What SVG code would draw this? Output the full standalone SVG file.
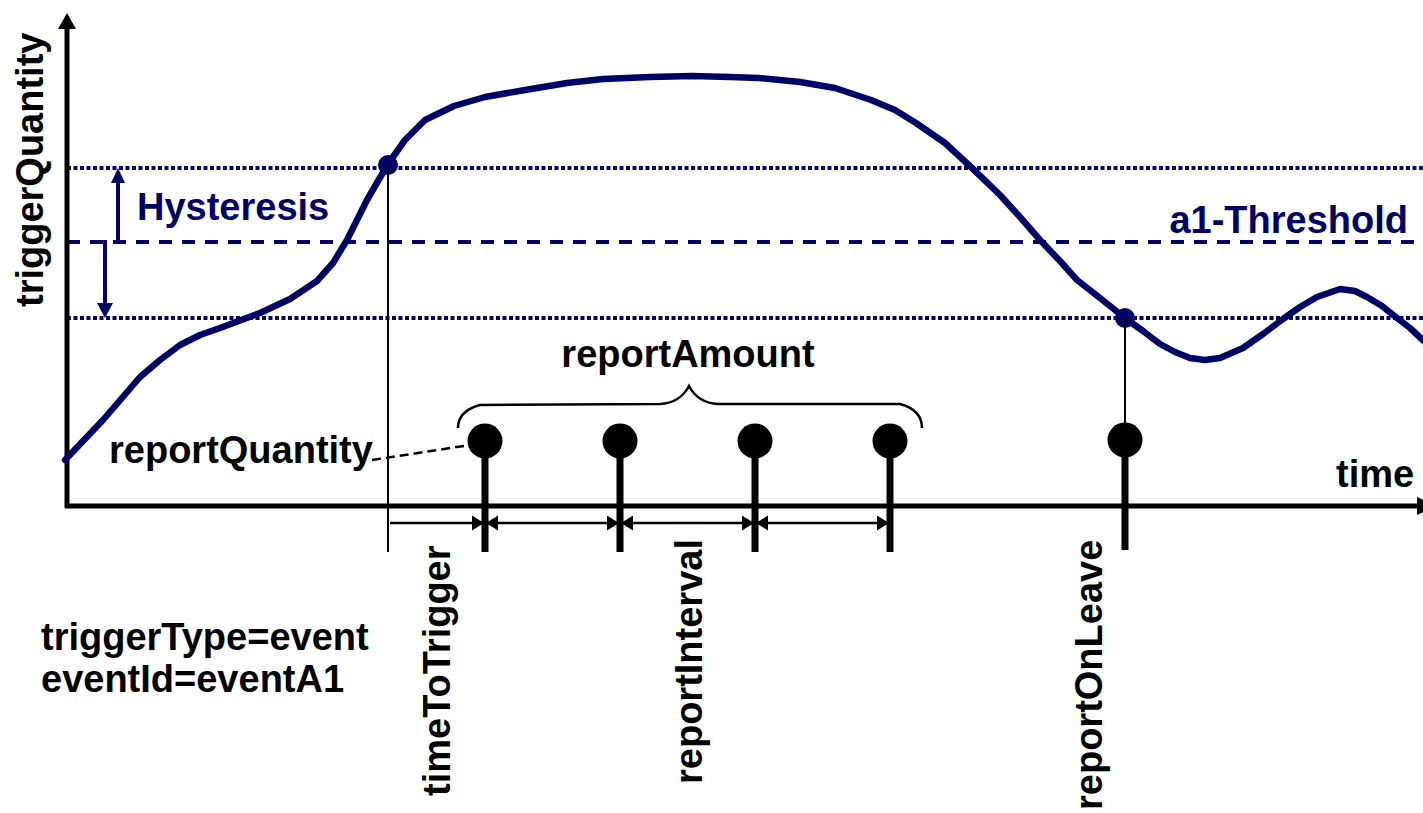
<svg xmlns="http://www.w3.org/2000/svg" width="1423" height="813" viewBox="0 0 1423 813">
<style>
text{font-family:"Liberation Sans",Arial,sans-serif;font-weight:bold;font-size:38px;fill:#000}
.navy{fill:#000066}
.dot{stroke:#000066;stroke-width:4;stroke-dasharray:4 2.5;fill:none}
.dash{stroke:#000066;stroke-width:4;stroke-dasharray:13 10;fill:none}
.ax{stroke:#000;stroke-width:5;fill:none}
.thin{stroke:#000;stroke-width:2;fill:none}
.stem{stroke:#000;stroke-width:7;fill:none}
.iv{stroke:#000;stroke-width:2.5;fill:none}
</style>
<defs>
<marker id="ah" markerUnits="userSpaceOnUse" markerWidth="14" markerHeight="16" refX="12" refY="7.5" orient="auto-start-reverse">
<path d="M0,0 L12,7.5 L0,15 Z" fill="#000"/>
</marker>
</defs>
<rect width="1423" height="813" fill="#fff"/>
<g id="levels">
<line class="dot" x1="67" y1="168" x2="1423" y2="168"/>
<line class="dash" x1="67" y1="242" x2="1423" y2="242"/>
<line class="dot" x1="67" y1="318" x2="1423" y2="318"/>
</g>
<g id="axes">
<line class="ax" x1="67" y1="508" x2="67" y2="26"/>
<polygon points="67,13 58,29 76,29" fill="#000"/>
<line class="ax" x1="65" y1="506" x2="1423" y2="506"/>
<polygon points="1417,497 1437,506 1417,515" fill="#000"/>
<text transform="translate(43,307) rotate(-90)">triggerQuantity</text>
<text x="1336" y="487">time</text>
</g>
<g id="hysteresis">
<line x1="118" y1="244" x2="118" y2="180" stroke="#000066" stroke-width="4"/>
<polygon points="118,168 111,183 125,183" fill="#000066"/>
<polyline points="95,242 105,242 105,305" stroke="#000066" stroke-width="4" fill="none"/>
<polygon points="105,318 97,303 113,303" fill="#000066"/>
<text class="navy" x="137" y="220">Hysteresis</text>
<text class="navy" x="1408" y="233" text-anchor="end">a1-Threshold</text>
</g>
<g id="curve">
<polyline fill="none" stroke="#000066" stroke-width="6.5" stroke-linejoin="round" stroke-linecap="round" points="65,460 84,440 103,420 122,398 140,377 160,360 180,345 200,335 220,328 260,313 290,299 317,281 333,263 347,240 357,220 367,200 378,181 388,164 405,140 425,120 454,106 485,97 525,90 567,83 603,79 650,77 692,76 730,77 759,78 800,82 835,88 871,100 895,110 916,123 945,143 972,168 1000,195 1020,217 1040,240 1060,261 1077,280 1100,298 1125,318 1143,331 1160,344 1175,352 1190,358 1205,360 1220,358 1243,348 1263,334 1283,319 1300,307 1317,297 1340,289 1355,291 1367,297 1382,306 1397,318 1410,328 1425,342"/>
<circle cx="388" cy="165" r="10" fill="#000066"/>
<circle cx="1125" cy="318" r="10" fill="#000066"/>
</g>
<g id="connectors">
<line class="thin" x1="388" y1="165" x2="388" y2="552"/>
<line class="thin" x1="1125" y1="318" x2="1125" y2="440"/>
<line class="iv" x1="390" y1="523" x2="484" y2="523" marker-end="url(#ah)"/>
<line class="iv" x1="486" y1="523" x2="619" y2="523" marker-start="url(#ah)" marker-end="url(#ah)"/>
<line class="iv" x1="621" y1="523" x2="754" y2="523" marker-start="url(#ah)" marker-end="url(#ah)"/>
<line class="iv" x1="756" y1="523" x2="889" y2="523" marker-start="url(#ah)" marker-end="url(#ah)"/>
<line x1="372" y1="460" x2="470" y2="445" stroke="#000" stroke-width="2.5" stroke-dasharray="9 5"/>
<path d="M458,428 Q458,411 480,405 L660,404 Q680,403 689,386 Q698,403 718,404 L900,404 Q922,410 922,428" stroke="#000" stroke-width="2.5" fill="none"/>
</g>
<g id="reports">
<line class="stem" x1="485" y1="441" x2="485" y2="552"/>
<line class="stem" x1="620" y1="441" x2="620" y2="552"/>
<line class="stem" x1="755" y1="441" x2="755" y2="552"/>
<line class="stem" x1="890" y1="441" x2="890" y2="552"/>
<line class="stem" x1="1125" y1="440" x2="1125" y2="550"/>
<circle cx="485" cy="441" r="17.5" fill="#000"/>
<circle cx="620" cy="441" r="17.5" fill="#000"/>
<circle cx="755" cy="441" r="17.5" fill="#000"/>
<circle cx="890" cy="441" r="17.5" fill="#000"/>
<circle cx="1125" cy="440" r="17.5" fill="#000"/>
</g>
<g id="labels">
<text x="688" y="367" text-anchor="middle">reportAmount</text>
<text x="109" y="463">reportQuantity</text>
<text transform="translate(450,796) rotate(-90)">timeToTrigger</text>
<text transform="translate(702,784) rotate(-90)">reportInterval</text>
<text transform="translate(1102,810) rotate(-90)">reportOnLeave</text>
<text x="41" y="650">triggerType=event</text>
<text x="41" y="692">eventId=eventA1</text>
</g>
</svg>
